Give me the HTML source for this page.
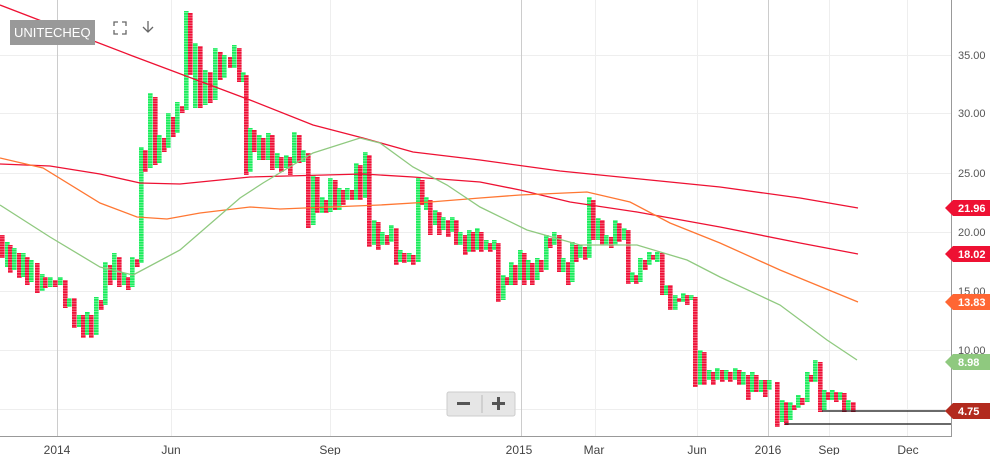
<!DOCTYPE html>
<html><head><meta charset="utf-8"><style>
html,body{margin:0;padding:0;background:#fff;}
body{width:998px;height:455px;overflow:hidden;position:relative;font-family:"Liberation Sans",sans-serif;}
svg{position:absolute;left:0;top:0;}
</style></head><body>
<svg id="s" width="998" height="455" xmlns="http://www.w3.org/2000/svg">
<defs>
<pattern id="pg" width="6" height="2.6" patternUnits="userSpaceOnUse"><rect width="6" height="2.6" fill="#1aed5c"/><rect y="1.9" width="6" height="0.7" fill="#9df7b8"/></pattern>
<pattern id="pr" width="6" height="2.6" patternUnits="userSpaceOnUse"><rect width="6" height="2.6" fill="#ee1238"/><rect y="1.9" width="6" height="0.7" fill="#f98a9c"/></pattern>
</defs>
<g stroke="#eeeeee" stroke-width="1">
<line x1="0" x2="951" y1="55.5" y2="55.5"/><line x1="0" x2="951" y1="113.5" y2="113.5"/><line x1="0" x2="951" y1="173.5" y2="173.5"/><line x1="0" x2="951" y1="232.5" y2="232.5"/><line x1="0" x2="951" y1="291.5" y2="291.5"/><line x1="0" x2="951" y1="350.5" y2="350.5"/><line x1="0" x2="951" y1="409.5" y2="409.5"/>
<line x1="171.5" x2="171.5" y1="0" y2="436"/><line x1="330.5" x2="330.5" y1="0" y2="436"/><line x1="595.5" x2="595.5" y1="0" y2="436"/><line x1="697.5" x2="697.5" y1="0" y2="436"/><line x1="829.5" x2="829.5" y1="0" y2="436"/><line x1="907.5" x2="907.5" y1="0" y2="436"/>
</g>
<g stroke="#cccccc"><line x1="57.5" x2="57.5" y1="0" y2="436"/><line x1="521.5" x2="521.5" y1="0" y2="436"/><line x1="768.5" x2="768.5" y1="0" y2="436"/></g>
<g id="cols"></g>
<g fill="none" stroke-width="1.3">
<polyline stroke="#ee1133" points="0,5 130,55 250,100 313,125 363,138 413,152 480,160 560,171 650,180 720,187 800,198 858,208"/>
<polyline stroke="#ee1133" points="0,164 50,166 100,174 140,183 180,184 250,177 363,174 413,177 480,182 520,190 570,202 637,212 720,227 800,243 858,254"/>
<polyline stroke="#ff7733" points="0,158 43,168 100,203 137,217 167,219 200,213 250,207 280,209 330,207 380,205 430,202 480,198 520,195 587,192 630,202 670,223 720,243 780,270 858,302"/>
<polyline stroke="#8fc97f" points="0,205 50,237 100,267 133,275 180,250 240,198 263,183 313,153 360,138 380,143 413,167 447,185 480,207 527,230 580,245 637,245 687,260 720,277 780,305 827,340 857,360"/>
</g>
<g stroke="#111" stroke-width="1.3"><line x1="822" x2="951" y1="411" y2="411"/><line x1="785" x2="951" y1="424" y2="424"/></g>
<g stroke="#999"><line x1="951.5" x2="951.5" y1="0" y2="437"/><line x1="0" x2="951" y1="436.5" y2="436.5"/></g>
<g font-size="11" fill="#555">
<text x="958" y="59">35.00</text><text x="958" y="117">30.00</text><text x="958" y="177">25.00</text><text x="958" y="236">20.00</text><text x="958" y="295">15.00</text><text x="958" y="354">10.00</text>
</g>
<g font-size="12" fill="#444" text-anchor="middle">
<text x="57" y="454">2014</text><text x="171" y="454">Jun</text><text x="330" y="454">Sep</text><text x="519" y="454">2015</text><text x="594" y="454">Mar</text><text x="697" y="454">Jun</text><text x="768" y="454">2016</text><text x="829" y="454">Sep</text><text x="908" y="454">Dec</text>
</g>
<g font-size="11" fill="#fff" font-weight="bold">
<path d="M945,208 L953,200 L990,200 L990,216 L953,216Z" fill="#ee1133"/><text x="958" y="212">21.96</text>
<path d="M945,254 L953,246 L990,246 L990,262 L953,262Z" fill="#ee1133"/><text x="958" y="258">18.02</text>
<path d="M945,302 L953,294 L990,294 L990,310 L953,310Z" fill="#ff6633"/><text x="958" y="306">13.83</text>
<path d="M945,362 L953,354 L990,354 L990,370 L953,370Z" fill="#8fc97f"/><text x="958" y="366">8.98</text>
<path d="M945,411 L953,403 L990,403 L990,419 L953,419Z" fill="#b22a1e"/><text x="958" y="415">4.75</text>
</g>
<rect x="10" y="20" width="85" height="25" fill="#999"/>
<text x="14" y="37" font-size="13" fill="#fff">UNITECHEQ</text>
<g stroke="#666" stroke-width="1.3" fill="none">
<path d="M114,26v-4h4M122,22h4v4M126,30v4h-4M118,34h-4v-4"/>
<path d="M148,21v11M143,27l5,5l5,-5"/>
</g>
<rect x="447" y="392" width="68" height="24" rx="2" fill="#e6e6e6" stroke="#ccc"/>
<line x1="482" x2="482" y1="395" y2="413" stroke="#bbb"/>
<rect x="457" y="402" width="13" height="3" fill="#555"/>
<rect x="492" y="402" width="13" height="3" fill="#555"/><rect x="497" y="397" width="3" height="13" fill="#555"/>
</svg>
<script>
var d=[
"r0,235,258","g5,242,267","r8,245,273","g12,248,270","r17,253,278","g21,253,277","r25,257,285","g29,260,282","r35,263,293","g40,274,291","r43,277,288","g48,277,287","r53,280,287","g58,277,285","r63,280,308","g67,298,307","r72,298,328","g77,315,327","r81,315,338","g85,312,335","r89,315,338","g94,297,335","r99,300,310","g103,262,305","r108,265,285","g112,253,280","r117,257,287","g122,273,285","r126,277,290","g130,257,287","r135,259,267","g139,147,263","r143,150,172","g148,93,168","r153,97,165","g157,135,163","r162,138,152","g166,113,148","r171,117,137","g175,102,133","r180,106,113","g184,11,110","r188,13,75",
"g193,43,108","r198,46,108","g203,70,105","r208,72,103","g213,48,100","r218,52,80","g222,55,78","r228,57,68","g232,45,68","r237,48,82","g241,72,82","r244,75,175",
"g248,128,172","r252,130,152","g257,135,160","r261,138,160","g266,133,160","r270,135,170","g275,153,168","r279,157,172","g284,155,168","r288,157,175","g292,132,163","r297,135,163","g301,150,162","r306,153,228","g311,175,225","r315,177,213","g320,197,213","r324,200,213","g328,178,212","r333,180,210","g337,188,210","r341,190,205","g345,188,200","r350,190,200","g354,163,200","r358,165,200","g363,152,198","r367,155,247","g372,220,245","r376,222,250","g380,232,245","r385,235,245","g389,225,242","r394,228,265","g398,250,262","r402,253,263","g407,253,262","r411,255,265","g416,178,262","r420,180,205","g424,197,210","r428,200,235","g433,210,225","r437,212,235","g441,217,230","r446,220,237","g450,217,232","r454,220,245","g458,232,245","r463,235,255","g467,230,252",
"r471,232,252","g475,228,250","r479,232,252","g484,240,250","r488,243,252","g492,240,250","r496,243,302","g501,275,300","r505,277,285","g509,262,285","r513,265,285","g518,250,280","r522,253,285","g526,260,280","r530,263,285","g535,258,280","r539,260,272","g544,235,270","r548,238,248","g552,232,245","r557,235,272","g561,258,272","r566,262,285","g570,242,282","r574,245,262","g578,245,258","r583,247,260","g587,197,258","r591,200,240","g596,218,240","r600,220,245","g604,235,245","r609,237,248","g613,220,245","r617,223,242","g622,228,240","r626,230,284","g630,272,282","r634,275,284","g638,258,282","r643,260,270","g647,252,265","r651,255,260","g655,252,262","r660,253,295","g664,285,295","r668,285,310","g673,295,310","r677,298,302","g681,293,302","r685,295,305","g689,295,300","r693,297,387",
"g698,350,385","r702,352,385","g707,370,380","r711,372,385","g715,368,380","r720,370,382","g724,370,380","r728,372,382","g733,368,380","r737,370,385","g741,372,385","r746,375,400","g750,372,392","r754,375,392","g759,380,392","r763,380,397","g767,380,390","r775,382,427","g780,400,422","r784,402,425","g788,402,420","r792,405,410","g796,395,408","r800,398,405","g805,372,402","r809,375,382","g813,360,382","r818,362,412","g822,390,410","r826,392,400","g830,390,400","r834,392,402","g838,392,400","r842,393,412","g846,400,410","r851,402,412"];
var g=document.getElementById('cols'),h='';
d.forEach(function(s){var c=s[0],p=s.slice(1).split(',').map(Number);
h+='<rect x="'+p[0]+'" y="'+p[1]+'" width="4.6" height="'+(p[2]-p[1])+'" fill="url(#p'+c+')"/>';});
g.innerHTML=h;
</script>
</body></html>
